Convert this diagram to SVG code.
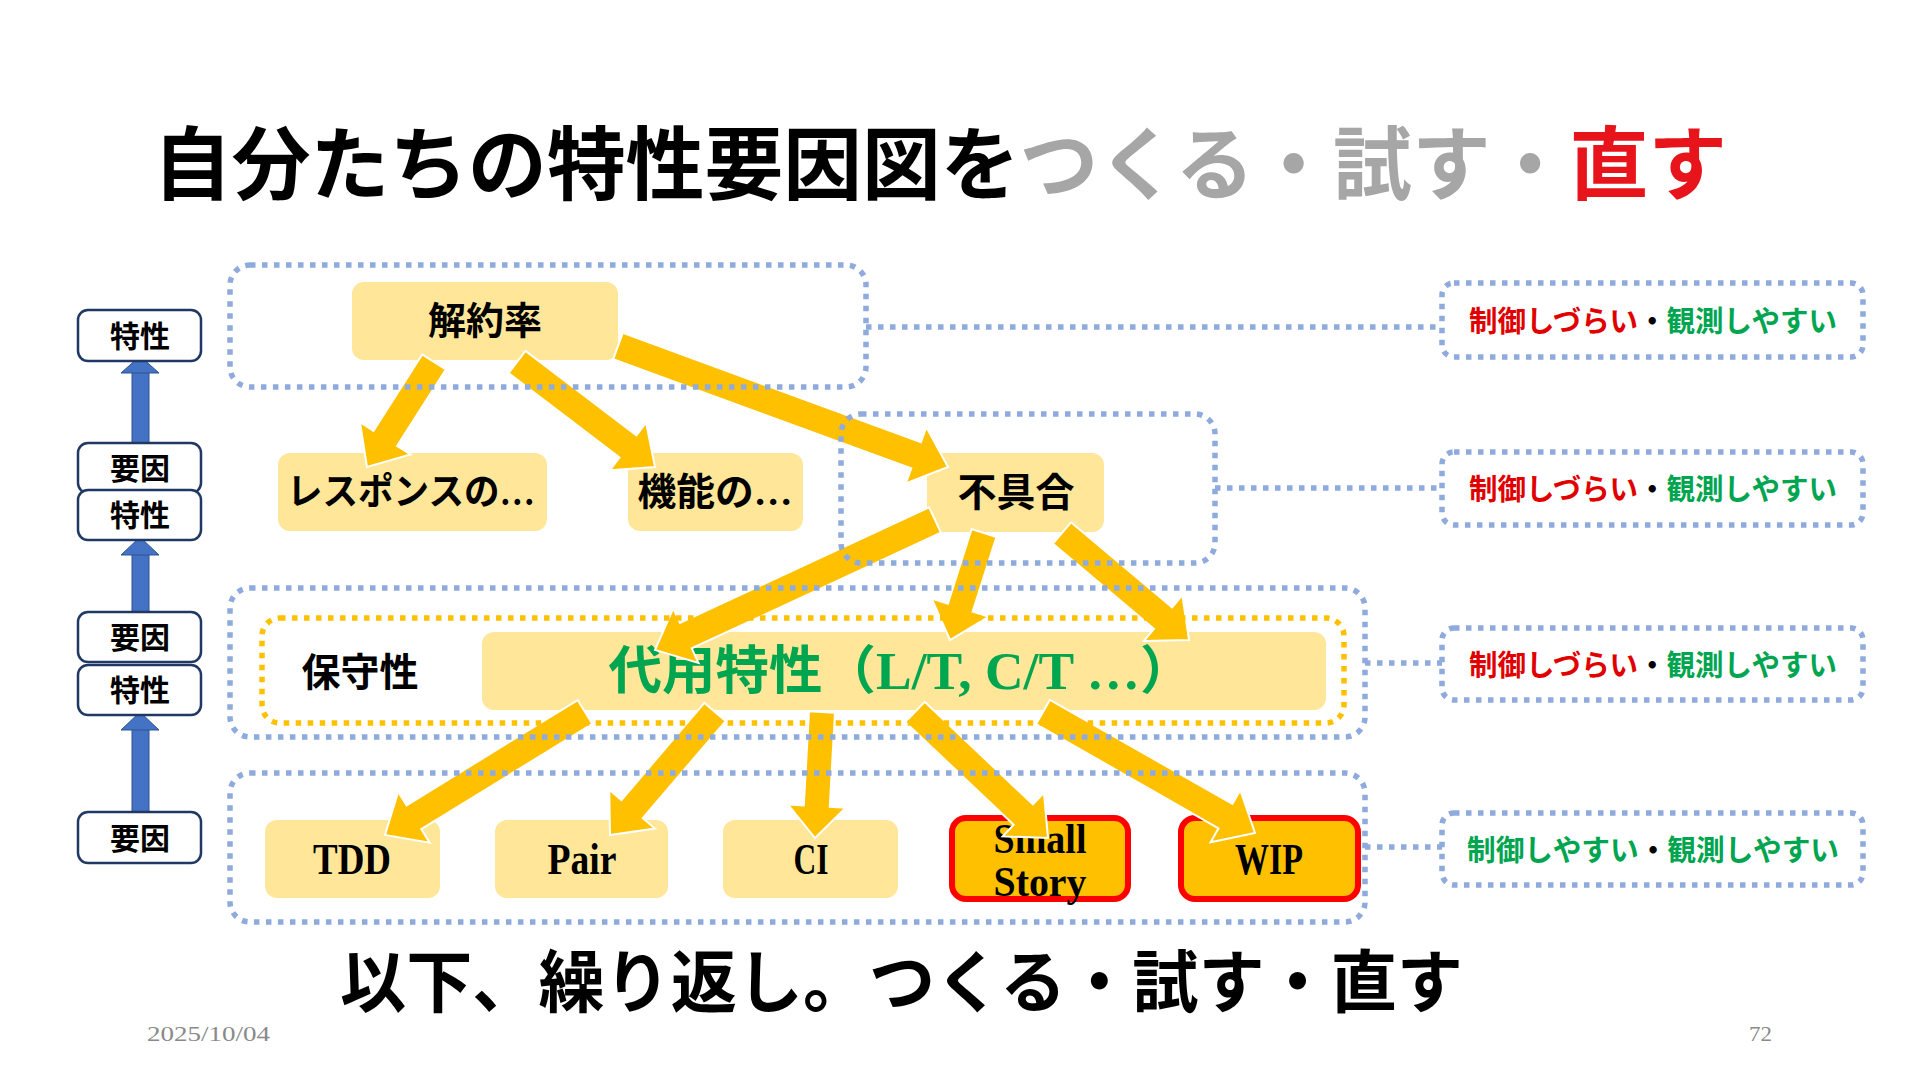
<svg xmlns="http://www.w3.org/2000/svg" width="1920" height="1080" viewBox="0 0 1920 1080">
<style>
.t{font-family:"Liberation Serif","Noto Sans CJK JP",serif;font-weight:700;dominant-baseline:central;text-anchor:middle}
.node{fill:#FFE699}
.hot{fill:#FFC000;stroke:#FF0000;stroke-width:6}
.lvl{fill:#fff;stroke:#203864;stroke-width:2.5}
.frame{fill:none;stroke:#8FAADC;stroke-width:5.5;stroke-dasharray:5.5 6.5}
.yframe{fill:none;stroke:#FFC000;stroke-width:5.5;stroke-dasharray:5.5 6.5}
.arrow{fill:#FFC000;stroke:#fff;stroke-width:2}
.up{fill:#4472C4;stroke:#2F528F;stroke-width:1}
.red{fill:#E00000}
.grn{fill:#00A550}
</style>
<rect width="1920" height="1080" fill="#fff"/>

<text class="t" x="153" y="166" font-size="80" style="text-anchor:start" textLength="1574" lengthAdjust="spacingAndGlyphs">自分たちの特性要因図を<tspan fill="#A6A6A6">つくる・試す・</tspan><tspan fill="#E8141B">直す</tspan></text>

<g id="levels">
  <g id="arrow-up-1"><rect class="up" x="132" y="372" width="17" height="71"/><polygon class="up" points="121,373 159,373 140,356"/></g>
  <g id="arrow-up-2"><rect class="up" x="132" y="554" width="17" height="58"/><polygon class="up" points="121,555 159,555 140,537"/></g>
  <g id="arrow-up-3"><rect class="up" x="132" y="729" width="17" height="83"/><polygon class="up" points="121,730 159,730 140,712"/></g>
  <g id="lvl1"><rect class="lvl" x="78" y="310" width="123" height="51" rx="10"/><text class="t" x="140" y="336" font-size="30">特性</text></g>
  <g id="lvl2"><rect class="lvl" x="78" y="443" width="123" height="50" rx="10"/><text class="t" x="140" y="468" font-size="30">要因</text></g>
  <g id="lvl3"><rect class="lvl" x="78" y="490" width="123" height="50" rx="10"/><text class="t" x="140" y="515" font-size="30">特性</text></g>
  <g id="lvl4"><rect class="lvl" x="78" y="612" width="123" height="50" rx="10"/><text class="t" x="140" y="637" font-size="30">要因</text></g>
  <g id="lvl5"><rect class="lvl" x="78" y="665" width="123" height="50" rx="10"/><text class="t" x="140" y="690" font-size="30">特性</text></g>
  <g id="lvl6"><rect class="lvl" x="78" y="812" width="123" height="51" rx="10"/><text class="t" x="140" y="838" font-size="30">要因</text></g>
</g>

<g id="n-kaiyaku"><rect class="node" x="352" y="282" width="266" height="78" rx="12"/><text class="t" x="485" y="321" font-size="38">解約率</text></g>
<g id="n-response"><rect class="node" x="278" y="453" width="269" height="78" rx="12"/><text class="t" x="411" y="492" font-size="37" textLength="248" lengthAdjust="spacingAndGlyphs">レスポンスの…</text></g>
<g id="n-kinou"><rect class="node" x="628" y="453" width="175" height="78" rx="12"/><text class="t" x="715" y="492" font-size="38" textLength="155" lengthAdjust="spacingAndGlyphs">機能の…</text></g>
<g id="n-fuguai"><rect class="node" x="927" y="453" width="177" height="79" rx="12"/><text class="t" x="1016" y="492" font-size="39">不具合</text></g>
<g id="n-hoshu"><text class="t" x="360" y="672" font-size="39">保守性</text></g>
<g id="n-daiyou"><rect class="node" x="482" y="632" width="844" height="78" rx="12"/><text class="t grn" x="901" y="671" font-size="52" textLength="585" lengthAdjust="spacingAndGlyphs">代用特性（L/T, C/T …）</text></g>
<g id="n-tdd"><rect class="node" x="265" y="820" width="175" height="78" rx="12"/><text class="t" x="352" y="859" font-size="44" textLength="78" lengthAdjust="spacingAndGlyphs">TDD</text></g>
<g id="n-pair"><rect class="node" x="495" y="820" width="173" height="78" rx="12"/><text class="t" x="582" y="859" font-size="44" textLength="69" lengthAdjust="spacingAndGlyphs">Pair</text></g>
<g id="n-ci"><rect class="node" x="723" y="820" width="175" height="78" rx="12"/><text class="t" x="811" y="859" font-size="44" textLength="35" lengthAdjust="spacingAndGlyphs">CI</text></g>
<g id="n-small"><rect class="hot" x="952" y="818" width="176" height="81" rx="14"/><text class="t" x="1040" y="839" font-size="42" textLength="93" lengthAdjust="spacingAndGlyphs">Small</text><text class="t" x="1040" y="882" font-size="42" textLength="93" lengthAdjust="spacingAndGlyphs">Story</text></g>
<g id="n-wip"><rect class="hot" x="1181" y="818" width="177" height="81" rx="14"/><text class="t" x="1269" y="859" font-size="44" textLength="68" lengthAdjust="spacingAndGlyphs">WIP</text></g>

<g id="connectors">
  <polygon class="arrow" transform="translate(434,362) rotate(122.54)" points="0,-14 90.6,-14 90.6,-30 124.6,0 90.6,30 90.6,14 0,14"/>
  <polygon class="arrow" transform="translate(517,362) rotate(37.27)" points="0,-14 139.4,-14 139.4,-30 173.4,0 139.4,30 139.4,14 0,14"/>
  <polygon class="arrow" transform="translate(618,346) rotate(20.14)" points="0,-14 317.5,-14 317.5,-30 351.5,0 317.5,30 317.5,14 0,14"/>
  <polygon class="arrow" transform="translate(935,520) rotate(155.10)" points="0,-14 274.7,-14 274.7,-30 308.7,0 274.7,30 274.7,14 0,14"/>
  <polygon class="arrow" transform="translate(984,533) rotate(107.63)" points="0,-13 78.3,-13 78.3,-30 112.3,0 78.3,30 78.3,13 0,13"/>
  <polygon class="arrow" transform="translate(1062,533) rotate(40.11)" points="0,-14 132.1,-14 132.1,-30 166.1,0 132.1,30 132.1,14 0,14"/>
  <polygon class="arrow" transform="translate(585,712) rotate(148.41)" points="0,-14 200.8,-14 200.8,-30 234.8,0 200.8,30 200.8,14 0,14"/>
  <polygon class="arrow" transform="translate(715,712) rotate(130.49)" points="0,-14 127.7,-14 127.7,-30 161.7,0 127.7,30 127.7,14 0,14"/>
  <polygon class="arrow" transform="translate(822,712) rotate(93.18)" points="0,-13 94.2,-13 94.2,-29 126.2,0 94.2,29 94.2,13 0,13"/>
  <polygon class="arrow" transform="translate(915,712) rotate(43.45)" points="0,-14 149.2,-14 149.2,-30 183.2,0 149.2,30 149.2,14 0,14"/>
  <polygon class="arrow" transform="translate(1043,712) rotate(29.72)" points="0,-14 210.1,-14 210.1,-30 244.1,0 210.1,30 210.1,14 0,14"/>
  <line class="frame" x1="866" y1="327" x2="1442" y2="327"/>
  <line class="frame" x1="1215" y1="488" x2="1442" y2="488"/>
  <line class="frame" x1="1365" y1="663" x2="1442" y2="663"/>
  <line class="frame" x1="1365" y1="847" x2="1442" y2="847"/>
</g>

<g id="frames">
  <rect class="frame" x="230" y="265" width="636" height="122" rx="20"/>
  <rect class="frame" x="841" y="414" width="374" height="149" rx="20"/>
  <rect class="frame" x="230" y="588" width="1135" height="149" rx="20"/>
  <rect class="yframe" x="262" y="618" width="1082" height="105" rx="18"/>
  <rect class="frame" x="230" y="773" width="1135" height="149" rx="20"/>
</g>

<g id="label-1"><rect class="frame" x="1442" y="283" width="421" height="74" rx="12"/><text class="t" x="1653" y="322" font-size="29" textLength="368" lengthAdjust="spacingAndGlyphs"><tspan class="red">制御しづらい</tspan><tspan fill="#000">・</tspan><tspan class="grn">観測しやすい</tspan></text></g>
<g id="label-2"><rect class="frame" x="1442" y="452" width="421" height="73" rx="12"/><text class="t" x="1653" y="490" font-size="29" textLength="368" lengthAdjust="spacingAndGlyphs"><tspan class="red">制御しづらい</tspan><tspan fill="#000">・</tspan><tspan class="grn">観測しやすい</tspan></text></g>
<g id="label-3"><rect class="frame" x="1442" y="628" width="421" height="72" rx="12"/><text class="t" x="1653" y="666" font-size="29" textLength="368" lengthAdjust="spacingAndGlyphs"><tspan class="red">制御しづらい</tspan><tspan fill="#000">・</tspan><tspan class="grn">観測しやすい</tspan></text></g>
<g id="label-4"><rect class="frame" x="1442" y="813" width="421" height="72" rx="12"/><text class="t" x="1653" y="851" font-size="29" textLength="372" lengthAdjust="spacingAndGlyphs"><tspan class="grn">制御しやすい</tspan><tspan fill="#000">・</tspan><tspan class="grn">観測しやすい</tspan></text></g>

<text class="t" x="340" y="984" font-size="68" style="text-anchor:start" textLength="1123" lengthAdjust="spacingAndGlyphs">以下、繰り返し。つくる・試す・直す</text>
<text class="t" x="147" y="1033" font-size="22" fill="#898989" style="text-anchor:start;font-weight:400" textLength="123" lengthAdjust="spacingAndGlyphs">2025/10/04</text>
<text class="t" x="1749" y="1033" font-size="22" fill="#898989" style="text-anchor:start;font-weight:400" textLength="23" lengthAdjust="spacingAndGlyphs">72</text>
</svg>
